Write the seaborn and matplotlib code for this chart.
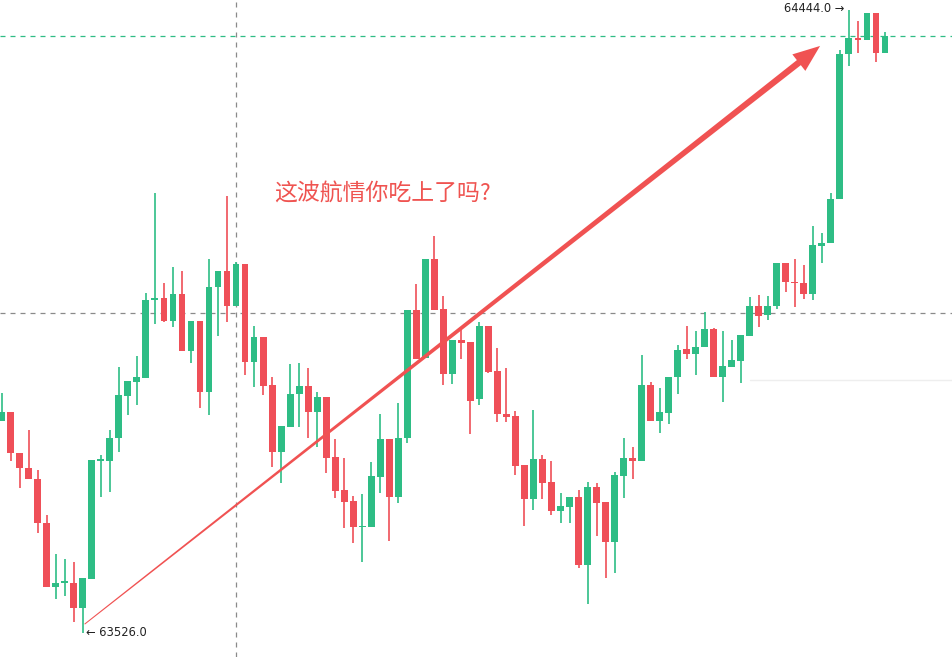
import numpy as np
import pandas as pd
import matplotlib
matplotlib.use("Agg")
import matplotlib.pyplot as plt
from matplotlib.patches import Polygon
from matplotlib.transforms import IdentityTransform
import seaborn as sns

# ---------------- data ----------------
opens = [63838, 63852, 63791, 63769, 63753, 63688, 63594, 63599, 63600, 63563,
         63606, 63779, 63779, 63813, 63875, 63896, 63902, 64017, 64020, 63986,
         64025, 63942, 63986, 63881, 64036, 64059, 64008, 64070, 63925, 63962,
         63891, 63793, 63829, 63878, 63890, 63852, 63874, 63785, 63737, 63720,
         63682, 63682, 63756, 63812, 63726, 63813, 64002, 63931, 64077, 64003,
         63908, 63958, 63955, 63871, 63978, 63912, 63849, 63846, 63773, 63723,
         63782, 63748, 63706, 63712, 63726, 63626, 63741, 63719, 63660, 63757,
         63784, 63779, 63891, 63838, 63850, 63903, 63944, 63937, 63947, 63974,
         63903, 63918, 63927, 63964, 64008, 63995, 64008, 64071, 64043, 64041,
         64025, 64096, 64101, 64165, 64379, 64403, 64400, 64439, 64381]
highs = [63880, 63852, 63791, 63825, 63766, 63700, 63642, 63635, 63631, 63607,
         63781, 63788, 63825, 63918, 63898, 63934, 64027, 64174, 64042, 64065,
         64059, 63986, 63986, 64077, 64059, 64170, 64072, 64070, 63978, 63962,
         63903, 63831, 63922, 63924, 63916, 63881, 63874, 63812, 63784, 63728,
         63731, 63778, 63849, 63812, 63865, 64002, 64040, 64077, 64111, 64022,
         63958, 63972, 63955, 63984, 63978, 63946, 63916, 63853, 63773, 63855,
         63788, 63779, 63732, 63726, 63737, 63748, 63747, 63719, 63763, 63813,
         63800, 63936, 63896, 63887, 63903, 63950, 63978, 63971, 63999, 63975,
         63971, 63958, 63965, 64021, 64024, 64023, 64071, 64071, 64077, 64068,
         64126, 64115, 64174, 64385, 64444, 64428, 64439, 64439, 64411]
lows = [63838, 63779, 63740, 63753, 63673, 63594, 63576, 63580, 63542, 63526,
        63606, 63726, 63734, 63793, 63847, 63862, 63902, 63981, 63984, 63977,
        63942, 63924, 63858, 63847, 63964, 63984, 64008, 63906, 63888, 63877,
        63771, 63747, 63829, 63829, 63813, 63800, 63762, 63725, 63681, 63659,
        63631, 63682, 63732, 63661, 63717, 63806, 63930, 63931, 64002, 63891,
        63893, 63930, 63819, 63862, 63909, 63837, 63837, 63759, 63684, 63707,
        63723, 63700, 63688, 63688, 63622, 63569, 63669, 63607, 63614, 63725,
        63753, 63779, 63838, 63821, 63834, 63878, 63930, 63906, 63947, 63903,
        63866, 63918, 63894, 63964, 63977, 63987, 64003, 64028, 64006, 64018,
        64017, 64071, 64101, 64165, 64361, 64381, 64400, 64367, 64381]
closes = [63852, 63791, 63769, 63753, 63688, 63594, 63600, 63602, 63563, 63607,
          63781, 63782, 63813, 63877, 63897, 63903, 64017, 64020, 63986, 64025,
          63942, 63986, 63881, 64036, 64059, 64008, 64070, 63925, 63962, 63890,
          63793, 63831, 63878, 63890, 63852, 63874, 63784, 63735, 63719, 63682,
          63684, 63757, 63812, 63726, 63813, 64002, 63930, 64077, 64002, 63908,
          63958, 63953, 63868, 63978, 63911, 63849, 63844, 63772, 63723, 63782,
          63747, 63706, 63713, 63726, 63626, 63741, 63718, 63660, 63759, 63784,
          63779, 63891, 63838, 63852, 63903, 63943, 63937, 63947, 63974, 63903,
          63919, 63928, 63965, 64008, 63993, 64008, 64071, 64043, 64041, 64025,
          64098, 64101, 64165, 64379, 64403, 64400, 64439, 64381, 64406]

low_label = "← 63526.0"
high_label = "64444.0 →"
title_text = "这波航情你吃上了吗?"
last_price = 64406
ref_level = 63997
faint_level = 63899
marker_index = 26
arrow_from = (9.2, 63539)
arrow_to = (90.8, 64391)

# ---------------- styling ----------------
sns.set_theme(style="white")
plt.rcParams['font.family'] = ['Noto Sans CJK SC', 'DejaVu Sans']

UP = "#2ebd85"
DOWN = "#ef4f58"

df = pd.DataFrame({"open": opens, "high": highs, "low": lows, "close": closes})
df["idx"] = np.arange(len(df))
df["up"] = df["close"] >= df["open"]
df["color"] = np.where(df["up"], UP, DOWN)
df["bottom"] = df[["open", "close"]].min(axis=1)
df["height"] = (df["open"] - df["close"]).abs().clip(lower=1.6)

fig = plt.figure(figsize=(9.52, 6.57), dpi=100)
ax = fig.add_axes([0, 0, 1, 1])
ax.set_facecolor("white")

spacing = 9.013
x0px = 1.7
ax.set_xlim(-x0px / spacing, (952 - x0px) / spacing)
ax.set_ylim(63490.6, 64458.7)

# reference lines
ax.axhline(last_price, color=UP, lw=0.9, ls=(0, (4, 4)), zorder=1)
ax.axhline(ref_level, color="#8a8a8a", lw=0.9, ls=(0, (4, 4)), zorder=1)
ax.axvline(marker_index, color="#8a8a8a", lw=0.9, ls=(0, (4, 4)), zorder=1)
ax.plot([83, 106], [faint_level, faint_level], color="#eeeeee", lw=1, zorder=0)

# wicks
ax.vlines(df["idx"], df["low"], df["high"], colors=df["color"], lw=1.2, zorder=2)
# bodies
ax.bar(df["idx"], df["height"], bottom=df["bottom"], width=0.76,
       color=df["color"], edgecolor="none", zorder=3)

for s in ax.spines.values():
    s.set_visible(False)
ax.set_xticks([])
ax.set_yticks([])

# extreme labels
imin = int(np.argmin(lows))
imax = int(np.argmax(highs))
ax.text(imin + 0.4, lows[imin], low_label, fontsize=8.3, color="#222222",
        va="center", ha="left", family=['DejaVu Sans'], zorder=5)
ax.text(imax - 0.5, highs[imax] + 2, high_label, fontsize=8.3, color="#222222",
        va="center", ha="right", family=['DejaVu Sans'], zorder=5)

# title annotation
ax.text(30.2, 64173, title_text, fontsize=16.5, color="#ef5350",
        va="center", ha="left", zorder=5)

# tapered arrow
fig.canvas.draw()
p0 = ax.transData.transform(arrow_from)
p1 = ax.transData.transform(arrow_to)
d = (p1 - p0) / np.linalg.norm(p1 - p0)
n = np.array([-d[1], d[0]])
head_len, head_hw = 27, 10.5
b = p1 - d * head_len
pts = [p0 + n * 0.5, b + n * 3.2, b + n * head_hw, p1,
       b - n * head_hw, b - n * 3.2, p0 - n * 0.5]
ax.add_patch(Polygon(pts, closed=True, transform=IdentityTransform(),
                     facecolor="#f05252", edgecolor="none", zorder=6))

fig.savefig("out.png", dpi=100)
